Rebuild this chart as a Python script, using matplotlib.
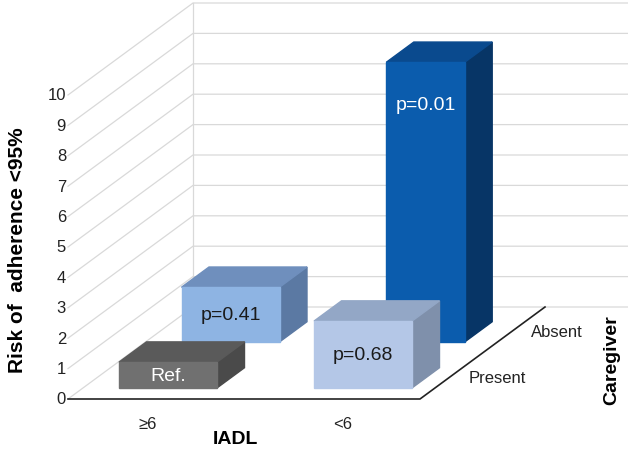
import matplotlib.pyplot as plt
from matplotlib.patches import Polygon

# data
iadl = ['≥6', '<6']
caregiver = ['Present', 'Absent']
risk = {('Present', '≥6'): 0.85, ('Present', '<6'): 2.2,
        ('Absent', '≥6'): 1.8, ('Absent', '<6'): 9.2}
labels = {('Present', '≥6'): 'Ref.', ('Present', '<6'): 'p=0.68',
          ('Absent', '≥6'): 'p=0.41', ('Absent', '<6'): 'p=0.01'}
yticks = list(range(0, 11))

# styling: (front, top, side, text colour)
colors = {('Present', '≥6'): ('#707070', '#5a5a5a', '#4a4a4a', 'white'),
          ('Present', '<6'): ('#b4c7e7', '#93a7c6', '#7f90ab', '#1a1a1a'),
          ('Absent', '≥6'): ('#8eb4e3', '#6f8fbd', '#5b79a3', '#1a1a1a'),
          ('Absent', '<6'): ('#0b5cad', '#0a4a8e', '#073566', 'white')}

# oblique projection in pixel space
O = (68, 400)
D = (125, -92)
ZS = 30.4
cat_x = [85, 280]
row_d = [0.12, 0.62]
BW, BD = 98, 0.22


def proj(x, z, d):
    return (O[0] + x + D[0] * d, O[1] - z * ZS + D[1] * d)


fig = plt.figure(figsize=(6.28, 4.60), dpi=100)
ax = fig.add_axes([0, 0, 1, 1])
ax.set_xlim(0, 628)
ax.set_ylim(460, 0)
ax.axis('off')
font = 'Liberation Sans'

# grid lines on left wall and back wall
for t in yticks:
    x0, y0 = proj(0, t, 0)
    x1, y1 = proj(0, t, 1)
    ax.plot([x0, x1, 628], [y0, y1, y1], color='#d9d9d9', lw=0.9, zorder=0)
    ax.text(x0 - 2, y0, str(t), ha='right', va='center', fontsize=12,
            family=font, color='#222')
x1, y1 = proj(0, 10, 1)
ax.plot([x1, x1], [y1, proj(0, 0, 1)[1]], color='#d9d9d9', lw=0.9, zorder=0)

# floor
W = 352
f = [proj(0, 0, 0), proj(W, 0, 0), proj(W, 0, 1), proj(0, 0, 1)]
ax.plot([f[0][0], f[1][0], f[2][0]], [f[0][1], f[1][1], f[2][1]],
        color='#222', lw=1.2, zorder=1)

# bars, back row first
for r in [1, 0]:
    for c in range(2):
        key = (caregiver[r], iadl[c])
        v = risk[key]
        fc, tc, sc, txc = colors[key]
        w = BW * 0.8 if v > 5 else BW
        xl, xr = cat_x[c] - w / 2, cat_x[c] + w / 2
        d0, d1 = row_d[r], row_d[r] + BD
        top = [proj(xl, v, d0), proj(xr, v, d0), proj(xr, v, d1), proj(xl, v, d1)]
        side = [proj(xr, 0, d0), proj(xr, 0, d1), proj(xr, v, d1), proj(xr, v, d0)]
        front = [proj(xl, 0, d0), proj(xr, 0, d0), proj(xr, v, d0), proj(xl, v, d0)]
        for poly, col in [(side, sc), (top, tc), (front, fc)]:
            ax.add_patch(Polygon(poly, closed=True, facecolor=col, edgecolor=col, zorder=2))
        tx, ty = proj(cat_x[c], v / 2 if v < 3 else v - 1.4, d0)
        ax.text(tx, ty, labels[key], ha='center', va='center', fontsize=14,
                family=font, color=txc, zorder=3)

# category labels
for c in range(2):
    x, y = proj(cat_x[c], 0, 0)
    ax.text(x - 5, y + 25, iadl[c], ha='center', va='center', fontsize=12, family=font, color='#222')
for r in range(2):
    x, y = proj(W, 0, row_d[r] + BD / 2)
    ax.text(x + 20, y, caregiver[r], ha='left', va='center', fontsize=12, family=font, color='#222')

ax.text(235, 440, 'IADL', ha='center', va='center', fontsize=14, weight='bold', family=font)
ax.text(612, 360, 'Caregiver', ha='center', va='center', rotation=90, fontsize=14, weight='bold', family=font)
ax.text(18, 250, 'Risk of  adherence <95%', ha='center', va='center', rotation=90,
        fontsize=15, weight='bold', family=font)

fig.savefig('out.png', dpi=100)
